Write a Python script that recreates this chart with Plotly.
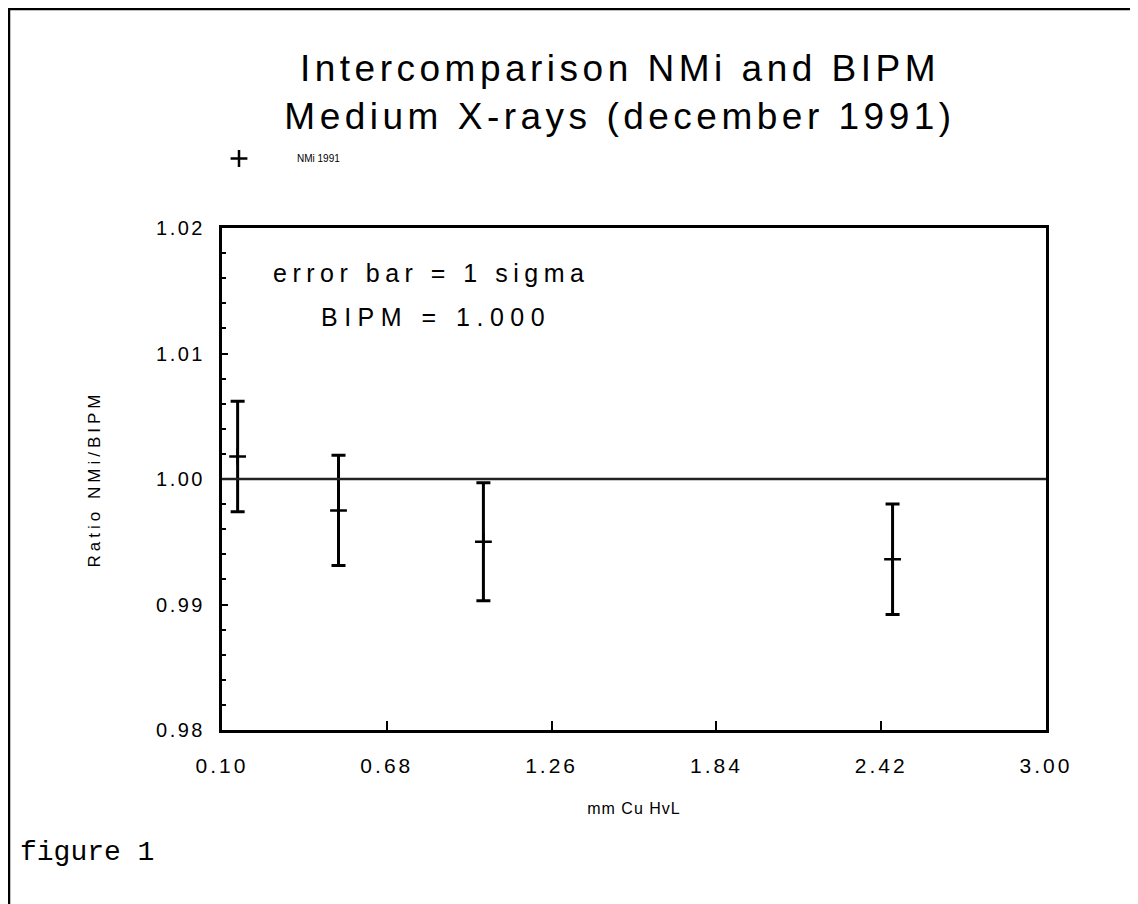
import plotly.graph_objects as go

# Data
hvl_mm_cu = [0.155, 0.51, 1.02, 2.46]
ratio = [1.0018, 0.9975, 0.9950, 0.9936]
sigma = [0.0044, 0.0044, 0.0047, 0.0044]
x_ticks = [0.10, 0.68, 1.26, 1.84, 2.42, 3.00]
x_tick_labels = ["0.10", "0.68", "1.26", "1.84", "2.42", "3.00"]
y_ticks = [0.98, 0.99, 1.00, 1.01, 1.02]
y_tick_labels = ["0.98", "0.99", "1.00", "1.01", "1.02"]
bipm_ref = 1.000

# page offset of the html body (browser default margin)
S = 8
W, H = 1138, 904
L, T = 222 - S, 228 - S
R, B = W - (1046 - S), H - (730 - S)
pw, ph = W - L - R, H - T - B


def px(xp):
    return (xp - S - L) / pw


def py(yp):
    return (H - B - (yp - S)) / ph


def spaced(s, sp):
    return f'<span style="letter-spacing:{sp}px">{s}</span>'


font_main = "Liberation Sans, Arial, Helvetica, sans-serif"

fig = go.Figure()
fig.add_trace(go.Scatter(
    x=hvl_mm_cu, y=ratio, mode="markers", name="NMi 1991",
    marker=dict(symbol="cross-thin", size=12, line=dict(color="black", width=2.5), color="black"),
    error_y=dict(type="data", array=sigma, visible=True, color="black", thickness=3, width=7),
))

fig.add_shape(type="line", xref="paper", yref="y", x0=0, x1=1, y0=bipm_ref, y1=bipm_ref,
              line=dict(color="#222", width=2.5))
# outer page frame
fig.add_shape(type="rect", xref="paper", yref="paper",
              x0=px(S + 1), x1=px(W + 20), y0=py(S + 1), y1=py(H + 20),
              line=dict(color="black", width=2.5), fillcolor="rgba(0,0,0,0)", layer="below")

fig.add_annotation(text=spaced("error bar = 1 sigma", 5.5), xref="paper", yref="paper",
                   x=px(431), y=py(273), xanchor="center", yanchor="middle",
                   showarrow=False, font=dict(family=font_main, size=25, color="black"))
fig.add_annotation(text=spaced("BIPM = 1.000", 6.5), xref="paper", yref="paper",
                   x=px(436), y=py(317), xanchor="center", yanchor="middle",
                   showarrow=False, font=dict(family=font_main, size=25, color="black"))
fig.add_annotation(text="figure 1", xref="paper", yref="paper", x=px(18), y=py(852),
                   xanchor="left", yanchor="middle", showarrow=False,
                   font=dict(family="Liberation Mono, Courier New, monospace", size=28, color="black"))

fig.update_layout(
    width=W, height=H,
    margin=dict(l=L, r=R, t=T, b=B),
    paper_bgcolor="white", plot_bgcolor="white",
    title=dict(text=spaced("Intercomparison NMi and BIPM", 4.5) + "<br>" +
               spaced("Medium X-rays (december 1991)", 4.5),
               x=(620 - S) / W, xanchor="center", y=1 - (81 - S) / H, yanchor="middle",
               font=dict(family=font_main, size=37, color="black")),
    showlegend=True,
    legend=dict(x=px(173 + S), y=py(136 + S), xanchor="left", yanchor="top", bgcolor="rgba(0,0,0,0)",
                font=dict(family=font_main, size=10, color="black"), itemwidth=106),
    xaxis=dict(range=[0.10, 3.00], tickvals=x_ticks,
               ticktext=[spaced(t, 3) for t in x_tick_labels],
               ticks="inside", ticklen=9, tickwidth=2, tickcolor="black",
               ticklabelstandoff=15,
               showline=True, linecolor="black", linewidth=3, mirror=True,
               showgrid=False, zeroline=False,
               tickfont=dict(family=font_main, size=21, color="black"),
               title=dict(text=spaced("mm Cu HvL", 1), standoff=27,
                          font=dict(family=font_main, size=16, color="black"))),
    yaxis=dict(range=[0.98, 1.02], tickvals=y_ticks,
               ticktext=[spaced(t, 2.5) for t in y_tick_labels],
               ticks="inside", ticklen=6, tickwidth=2, tickcolor="black",
               ticklabelstandoff=10,
               minor=dict(dtick=0.002, ticks="inside", ticklen=4, tickwidth=1.5, tickcolor="black"),
               showline=True, linecolor="black", linewidth=3, mirror=True,
               showgrid=False, zeroline=False,
               tickfont=dict(family=font_main, size=20, color="black"),
               title=dict(text=spaced("Ratio NMi/BIPM", 4), standoff=52,
                          font=dict(family=font_main, size=17, color="black"))),
)

fig.write_html("out.html")
